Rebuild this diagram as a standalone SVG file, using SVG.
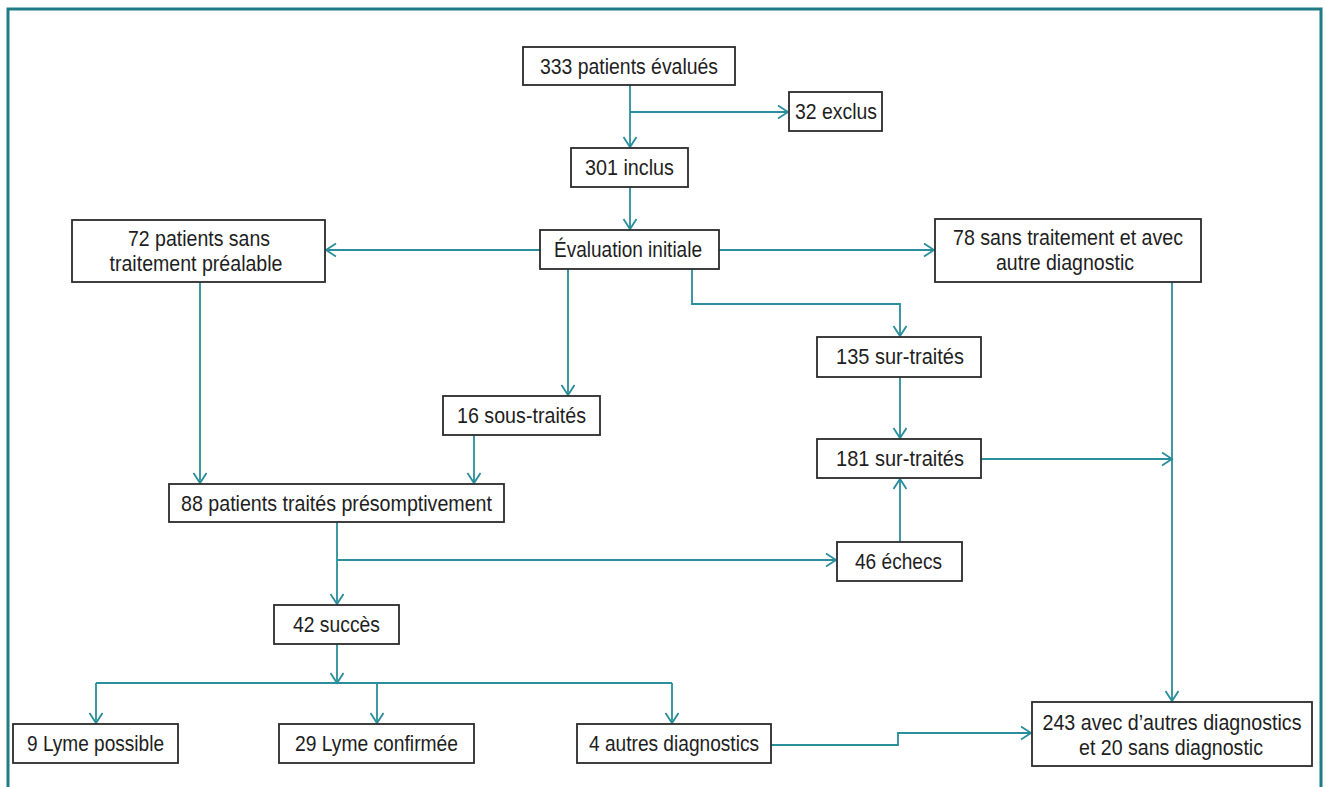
<svg xmlns="http://www.w3.org/2000/svg" width="1326" height="787" viewBox="0 0 1326 787">
<style>
.box{fill:#fff;stroke:#2b2b2b;stroke-width:1.8}
.t{font-family:"Liberation Sans",Arial,sans-serif;font-size:22px;fill:#1e1e1e;text-anchor:middle}
.c{fill:none;stroke:#2a8e9b;stroke-width:1.8;stroke-linejoin:miter}
.frame{fill:none;stroke:#1f7b86;stroke-width:3}
</style>
<defs>
<marker id="ah" markerUnits="userSpaceOnUse" markerWidth="14" markerHeight="16" refX="11" refY="7" orient="auto" viewBox="0 0 14 16">
<path d="M1,0.5 L11,7 L1,13.5" fill="none" stroke="#2a8e9b" stroke-width="1.8"/>
</marker>
</defs>
<rect width="1326" height="787" fill="#fff"/>
<path class="frame" d="M8,787 V9 H1321 V787"/>
<g id="connectors">
<path class="c" d="M630,85 V147" marker-end="url(#ah)"/>
<path class="c" d="M630,112 H788" marker-end="url(#ah)"/>
<path class="c" d="M630,187 V229" marker-end="url(#ah)"/>
<path class="c" d="M540,250 H326" marker-end="url(#ah)"/>
<path class="c" d="M719,250 H934" marker-end="url(#ah)"/>
<path class="c" d="M568,269 V395" marker-end="url(#ah)"/>
<path class="c" d="M692,269 V304 H900 V336" marker-end="url(#ah)"/>
<path class="c" d="M900,377 V438" marker-end="url(#ah)"/>
<path class="c" d="M200,282 V483" marker-end="url(#ah)"/>
<path class="c" d="M474,435 V483" marker-end="url(#ah)"/>
<path class="c" d="M337,522 V604" marker-end="url(#ah)"/>
<path class="c" d="M337,560 H836" marker-end="url(#ah)"/>
<path class="c" d="M900,542 V479" marker-end="url(#ah)"/>
<path class="c" d="M981,459 H1172" marker-end="url(#ah)"/>
<path class="c" d="M1172,282 V701" marker-end="url(#ah)"/>
<path class="c" d="M337,644 V683" marker-end="url(#ah)"/>
<path class="c" d="M96,683 H672"/>
<path class="c" d="M96,683 V723" marker-end="url(#ah)"/>
<path class="c" d="M377,683 V723" marker-end="url(#ah)"/>
<path class="c" d="M672,683 V723" marker-end="url(#ah)"/>
<path class="c" d="M771,745 H898 V733 H1031" marker-end="url(#ah)"/>
</g>
<g id="n333"><rect class="box" x="523" y="47" width="212" height="38"/><text class="t" x="629" y="74" textLength="178" lengthAdjust="spacingAndGlyphs">333 patients évalués</text></g>
<g id="n32"><rect class="box" x="789" y="92" width="93" height="39"/><text class="t" x="836" y="119" textLength="82" lengthAdjust="spacingAndGlyphs">32 exclus</text></g>
<g id="n301"><rect class="box" x="571" y="148" width="117" height="39"/><text class="t" x="629.5" y="175" textLength="89" lengthAdjust="spacingAndGlyphs">301 inclus</text></g>
<g id="neval"><rect class="box" x="540" y="230" width="179" height="39"/><text class="t" x="628" y="257" textLength="148" lengthAdjust="spacingAndGlyphs">Évaluation initiale</text></g>
<g id="n72"><rect class="box" x="72" y="220" width="253" height="62"/><text class="t" x="199" y="246" textLength="142" lengthAdjust="spacingAndGlyphs">72 patients sans</text><text class="t" x="196" y="271" textLength="173" lengthAdjust="spacingAndGlyphs">traitement préalable</text></g>
<g id="n78"><rect class="box" x="935" y="219" width="266" height="63"/><text class="t" x="1068" y="245" textLength="230" lengthAdjust="spacingAndGlyphs">78 sans traitement et avec</text><text class="t" x="1065" y="270" textLength="138" lengthAdjust="spacingAndGlyphs">autre diagnostic</text></g>
<g id="n135"><rect class="box" x="817" y="337" width="164" height="40"/><text class="t" x="900" y="364" textLength="128" lengthAdjust="spacingAndGlyphs">135 sur-traités</text></g>
<g id="n16"><rect class="box" x="443" y="396" width="157" height="39"/><text class="t" x="521.5" y="423" textLength="129" lengthAdjust="spacingAndGlyphs">16 sous-traités</text></g>
<g id="n181"><rect class="box" x="817" y="439" width="164" height="39"/><text class="t" x="900" y="466" textLength="128" lengthAdjust="spacingAndGlyphs">181 sur-traités</text></g>
<g id="n88"><rect class="box" x="169" y="484" width="335" height="38"/><text class="t" x="336.5" y="511" textLength="311" lengthAdjust="spacingAndGlyphs">88 patients traités présomptivement</text></g>
<g id="n46"><rect class="box" x="837" y="542" width="125" height="39"/><text class="t" x="898.5" y="569" textLength="87" lengthAdjust="spacingAndGlyphs">46 échecs</text></g>
<g id="n42"><rect class="box" x="274" y="605" width="125" height="39"/><text class="t" x="336.5" y="632" textLength="87" lengthAdjust="spacingAndGlyphs">42 succès</text></g>
<g id="n9"><rect class="box" x="13" y="724" width="165" height="39"/><text class="t" x="95.5" y="751" textLength="137" lengthAdjust="spacingAndGlyphs">9 Lyme possible</text></g>
<g id="n29"><rect class="box" x="279" y="724" width="195" height="39"/><text class="t" x="376.5" y="751" textLength="163" lengthAdjust="spacingAndGlyphs">29 Lyme confirmée</text></g>
<g id="n4"><rect class="box" x="577" y="724" width="194" height="39"/><text class="t" x="674" y="751" textLength="170" lengthAdjust="spacingAndGlyphs">4 autres diagnostics</text></g>
<g id="n243"><rect class="box" x="1032" y="702" width="280" height="64"/><text class="t" x="1172" y="730" textLength="259" lengthAdjust="spacingAndGlyphs">243 avec d’autres diagnostics</text><text class="t" x="1171" y="755" textLength="184" lengthAdjust="spacingAndGlyphs">et 20 sans diagnostic</text></g>
</svg>
